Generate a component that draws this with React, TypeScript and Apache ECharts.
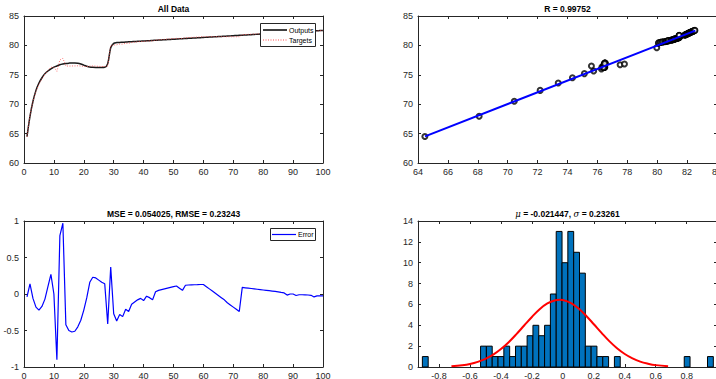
import React, { useEffect, useRef } from "react";
import * as echarts from "echarts";

// ---------- data ----------
const sampleIndex = Array.from({ length: 100 }, (_, i) => i + 1);

const outputs = [
  64.5, 67.95, 70.5, 72.35, 73.6, 74.5, 75.2, 75.65, 76.0, 76.3,
  76.5, 76.72, 76.84, 76.92, 76.98, 77.02, 77.02, 76.98, 76.85, 76.65,
  76.45, 76.32, 76.27, 76.25, 76.25, 76.25, 76.28, 76.9, 79.6, 80.35,
  80.48, 80.51, 80.54, 80.57, 80.6, 80.63, 80.66, 80.69, 80.72, 80.75,
  80.78, 80.81, 80.84, 80.87, 80.9, 80.93, 80.96, 80.99, 81.02, 81.05,
  81.08, 81.11, 81.14, 81.17, 81.2, 81.23, 81.26, 81.29, 81.32, 81.35,
  81.38, 81.41, 81.44, 81.47, 81.5, 81.53, 81.56, 81.59, 81.62, 81.65,
  81.68, 81.71, 81.74, 81.77, 81.8, 81.83, 81.86, 81.89, 81.92, 81.95,
  81.98, 82.01, 82.04, 82.07, 82.1, 82.13, 82.16, 82.19, 82.22, 82.25,
  82.28, 82.31, 82.34, 82.37, 82.4, 82.43, 82.46, 82.49, 82.52, 82.55,
];

const errors = [
  -0.04, 0.14, -0.06, -0.18, -0.22, -0.17, -0.07, 0.1, 0.27, 0.0,
  -0.9, 0.8, 0.97, -0.42, -0.5, -0.52, -0.51, -0.45, -0.36, -0.22,
  -0.05, 0.16, 0.23, 0.22, 0.19, 0.16, 0.14, -0.41, 0.37, -0.27,
  -0.37, -0.28, -0.31, -0.21, -0.24, -0.14, -0.11, -0.08, -0.06, -0.09,
  -0.03, -0.05, -0.08, 0.03, 0.05, 0.06, 0.07, 0.08, 0.09, 0.1,
  0.11, 0.08, 0.05, 0.12, 0.123, 0.125, 0.127, 0.128, 0.13, 0.13,
  0.1, 0.07, 0.04, 0.01, -0.02, -0.05, -0.08, -0.12, -0.15, -0.18,
  -0.21, -0.24, 0.09, 0.085, 0.08, 0.075, 0.07, 0.065, 0.06, 0.055,
  0.05, 0.045, 0.04, 0.035, 0.03, 0.022, 0.015, -0.015, 0.0, 0.0,
  -0.02, -0.01, -0.01, -0.012, -0.014, -0.018, -0.04, -0.025, -0.025, -0.025,
];

// targets are the outputs plus the error
const targets = outputs.map((o, i) => Math.round((o + errors[i]) * 1000) / 1000);

// regression fit line end points
const fitLine = [
  [64.47, 64.53],
  [82.55, 82.52],
];

// histogram of errors (50 bins)
const histStart = -0.9077;
const binWidth = 0.0376;
const binCounts = [
  1, 0, 0, 0, 0, 0, 0, 0, 0, 0,
  2, 2, 1, 1, 2, 1, 2, 2, 3, 4,
  3, 4, 7, 13, 10, 13, 11, 9, 2, 2,
  1, 1, 0, 1, 0, 0, 0, 0, 0, 0,
  0, 0, 0, 0, 0, 1, 0, 0, 0, 1,
];

// fitted normal curve (as read)
const normalCurve = [
  [-0.72, 0.07], [-0.65, 0.17], [-0.6, 0.29], [-0.55, 0.49], [-0.5, 0.78],
  [-0.45, 1.18], [-0.4, 1.72], [-0.35, 2.38], [-0.3, 3.15], [-0.25, 3.98],
  [-0.2, 4.8], [-0.15, 5.54], [-0.1, 6.09], [-0.05, 6.4], [-0.02, 6.45],
  [0, 6.42], [0.05, 6.15], [0.1, 5.63], [0.15, 4.92], [0.2, 4.1],
  [0.25, 3.27], [0.3, 2.48], [0.35, 1.8], [0.4, 1.25], [0.45, 0.83],
  [0.5, 0.52], [0.55, 0.32], [0.6, 0.18], [0.68, 0.07],
];

const histTicks = [-0.8, -0.6, -0.4, -0.2, 0, 0.2, 0.4, 0.6, 0.8];

const titleTexts = [
  "All Data",
  "R = 0.99752",
  "MSE = 0.054025, RMSE = 0.23243",
  "{i|\u03bc} = -0.021447, {i|\u03c3} = 0.23261",
];

const legendLabels = ["Outputs", "Targets", "Error"];

// ---------- styling ----------
const FONT = "'Liberation Sans', Arial, Helvetica, sans-serif";
const AX = "#262626";

function xAx(gridIndex: number, min: number, max: number, interval: number | null, top: boolean, custom?: number[]) {
  const a: any = {
    type: "value",
    gridIndex,
    min,
    max,
    position: top ? "top" : "bottom",
    axisLine: { show: true, onZero: false, lineStyle: { color: AX, width: 1 } },
    axisTick: { show: true, inside: true, length: 3, lineStyle: { color: AX } },
    splitLine: { show: false },
    axisLabel: {
      show: !top,
      color: AX,
      fontSize: 9,
      fontFamily: FONT,
      margin: 4,
      showMinLabel: true,
      showMaxLabel: true,
      hideOverlap: false,
    },
  };
  if (interval !== null) a.interval = interval;
  if (custom) {
    a.axisLabel.customValues = custom;
    a.axisTick.customValues = custom;
  }
  return a;
}

function yAx(gridIndex: number, min: number, max: number, interval: number, right: boolean) {
  return {
    type: "value",
    gridIndex,
    min,
    max,
    interval,
    position: right ? "right" : "left",
    axisLine: { show: true, onZero: false, lineStyle: { color: AX, width: 1 } },
    axisTick: { show: true, inside: true, length: 3, lineStyle: { color: AX } },
    splitLine: { show: false },
    axisLabel: {
      show: !right,
      color: AX,
      fontSize: 9,
      fontFamily: FONT,
      margin: 5,
      showMinLabel: true,
      showMaxLabel: true,
    },
  };
}

function legendBox(x: number, y: number, w: number, h: number) {
  return {
    type: "rect",
    z: 100,
    shape: { x, y, width: w, height: h },
    style: { fill: "#fff", stroke: AX, lineWidth: 1 },
  };
}

function legendLine(x: number, y: number, len: number, style: any) {
  return {
    type: "line",
    z: 101,
    shape: { x1: x, y1: y, x2: x + len, y2: y },
    style,
  };
}

function legendText(x: number, y: number, text: string) {
  return {
    type: "text",
    z: 101,
    x,
    y,
    style: {
      text,
      align: "left",
      verticalAlign: "middle",
      fontSize: 7,
      fontFamily: FONT,
      fill: "#000",
    },
  };
}

export default function App() {
  const ref = useRef<HTMLDivElement>(null);

  useEffect(() => {
    if (!ref.current) return;
    const chart = echarts.init(ref.current, undefined, { renderer: "svg" });

    const grids = [
      { left: 24, top: 16, width: 299, height: 147 },
      { left: 418, top: 16, width: 299, height: 147 },
      { left: 24, top: 221, width: 299, height: 146 },
      { left: 418, top: 221, width: 299, height: 146 },
    ].map((g) => ({ ...g, containLabel: false, outerBoundsMode: "none", show: false }));

    const titlePos = [
      [173.5, 9],
      [567.5, 9],
      [173.5, 213.5],
      [567.5, 213.5],
    ];

    const titles = titleTexts.map((t, i) => ({
      type: "text",
      x: titlePos[i][0],
      y: titlePos[i][1],
      z: 100,
      style: {
        text: t,
        align: "center",
        verticalAlign: "middle",
        fontSize: 8.5,
        fontWeight: "bold",
        fontFamily: FONT,
        fill: "#000",
        rich: {
          i: { fontStyle: "italic", fontWeight: "normal", fontSize: 8.5, fontFamily: "'DejaVu Serif', serif", fill: "#000" },
        },
      },
    }));

    const legends = [
      legendBox(260.5, 23.5, 55, 23),
      legendLine(263, 30, 24, { stroke: "#000", lineWidth: 1.5 }),
      legendLine(263, 40, 24, { stroke: "#ff4d4d", lineWidth: 1, lineDash: [1, 1.5] }),
      legendText(289, 30, legendLabels[0]),
      legendText(289, 40, legendLabels[1]),
      legendBox(270.5, 228.5, 45, 12),
      legendLine(272, 234.5, 24, { stroke: "#0000ff", lineWidth: 1.2 }),
      legendText(298, 234.5, legendLabels[2]),
    ];

    const option: any = {
      animation: false,
      backgroundColor: "#fff",
      grid: grids,
      xAxis: [
        xAx(0, 0, 100, 10, false),
        xAx(0, 0, 100, 10, true),
        xAx(1, 64, 84, 2, false),
        xAx(1, 64, 84, 2, true),
        xAx(2, 0, 100, 10, false),
        xAx(2, 0, 100, 10, true),
        xAx(3, -0.936, 0.996, null, false, histTicks),
        xAx(3, -0.936, 0.996, null, true, histTicks),
      ],
      yAxis: [
        yAx(0, 60, 85, 5, false),
        yAx(0, 60, 85, 5, true),
        yAx(1, 60, 85, 5, false),
        yAx(1, 60, 85, 5, true),
        yAx(2, -1, 1, 0.5, false),
        yAx(2, -1, 1, 0.5, true),
        yAx(3, 0, 14, 2, false),
        yAx(3, 0, 14, 2, true),
      ],
      graphic: [...titles, ...legends],
      series: [
        {
          name: "Outputs",
          type: "line",
          xAxisIndex: 0,
          yAxisIndex: 0,
          data: sampleIndex.map((x, i) => [x, outputs[i]]),
          symbol: "none",
          smooth: 0.3,
          color: "#000",
          lineStyle: { color: "#1a1a1a", width: 1.5 },
          z: 2,
        },
        {
          name: "Targets",
          type: "line",
          xAxisIndex: 0,
          yAxisIndex: 0,
          data: sampleIndex.map((x, i) => [x, targets[i]]),
          symbol: "none",
          color: "#ff4d4d",
          lineStyle: { color: "#ff4d4d", width: 1, type: [1, 1.5], opacity: 0.8 },
          z: 3,
        },
        {
          name: "Data",
          type: "scatter",
          xAxisIndex: 2,
          yAxisIndex: 2,
          data: targets.map((t, i) => [t, outputs[i]]),
          symbol: "emptyCircle",
          symbolSize: 5,
          itemStyle: { color: "#000", borderColor: "#000", borderWidth: 1 },
          z: 2,
        },
        {
          name: "Fit",
          type: "line",
          xAxisIndex: 2,
          yAxisIndex: 2,
          data: fitLine,
          symbol: "none",
          lineStyle: { color: "#0000ff", width: 2 },
          z: 3,
        },
        {
          name: "Error",
          type: "line",
          xAxisIndex: 4,
          yAxisIndex: 4,
          data: sampleIndex.map((x, i) => [x, errors[i]]),
          symbol: "none",
          color: "#0000ff",
          lineStyle: { color: "#0000ff", width: 1.2 },
        },
        {
          name: "Histogram",
          type: "custom",
          xAxisIndex: 6,
          yAxisIndex: 6,
          data: binCounts
            .map((c, i) => [histStart + i * binWidth, histStart + (i + 1) * binWidth, c])
            .filter((d) => d[2] > 0),
          encode: { x: [0, 1], y: 2 },
          renderItem: (params: any, api: any) => {
            const p0 = api.coord([api.value(0), api.value(2)]);
            const p1 = api.coord([api.value(1), 0]);
            return {
              type: "rect",
              shape: { x: p0[0], y: p0[1], width: p1[0] - p0[0], height: p1[1] - p0[1] },
              style: { fill: "#0072BD", stroke: "#000", lineWidth: 1 },
            };
          },
          z: 2,
        },
        {
          name: "Normal fit",
          type: "line",
          xAxisIndex: 6,
          yAxisIndex: 6,
          data: normalCurve,
          symbol: "none",
          smooth: 0.4,
          lineStyle: { color: "#ff0000", width: 2 },
          z: 3,
        },
      ],
    };

    chart.setOption(option);
    return () => chart.dispose();
  }, []);

  return (
    <div
      ref={ref}
      style={{ position: "fixed", left: 0, top: 0, width: 716, height: 379, background: "#fff" }}
    />
  );
}
